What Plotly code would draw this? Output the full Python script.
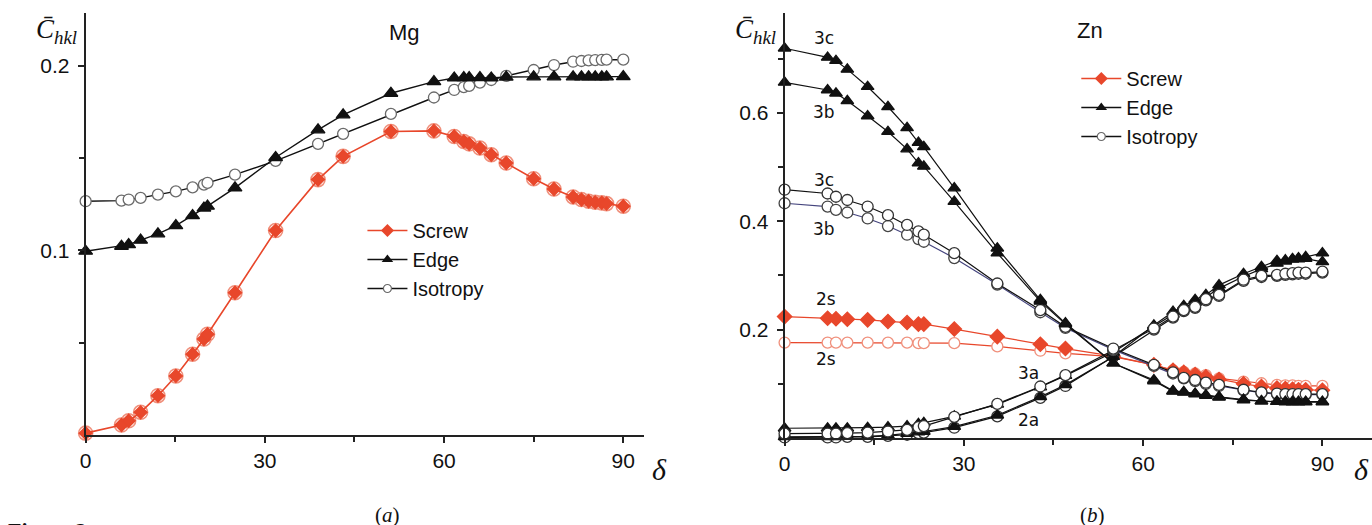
import plotly.graph_objects as go

# ---------------- Data: panel (a) Mg ----------------
delta_mg = [0, 6, 7.2, 9.2, 12.1, 15.1, 17.9, 19.8, 20.4, 25, 31.8, 38.9, 43.1, 51.1, 58.3,
            61.7, 63.3, 64.2, 66, 67.9, 70.4, 75, 78.4, 81.6, 83, 84.2, 85.3, 86.4, 87.2, 90]
mg_screw = [0.001, 0.0054, 0.0077, 0.0123, 0.0213, 0.032, 0.0438, 0.052, 0.0546, 0.0771, 0.1108,
            0.1384, 0.151, 0.1645, 0.1648, 0.1618, 0.1591, 0.1578, 0.1555, 0.1519, 0.1474, 0.1389,
            0.1333, 0.129, 0.1276, 0.1267, 0.1261, 0.1258, 0.1254, 0.124]
mg_edge = [0.0996, 0.1023, 0.1032, 0.1056, 0.109, 0.1135, 0.1189, 0.123, 0.124, 0.1339, 0.1504,
           0.1654, 0.1735, 0.1852, 0.1915, 0.1935, 0.1937, 0.1937, 0.1937, 0.1935, 0.1940, 0.1941,
           0.1941, 0.1941, 0.1941, 0.1941, 0.1941, 0.1941, 0.1941, 0.1942]
mg_iso = [0.1267, 0.127, 0.1276, 0.1285, 0.1303, 0.132, 0.1342, 0.1357, 0.1366, 0.1411, 0.1486,
          0.1578, 0.1632, 0.174, 0.1829, 0.187, 0.1885, 0.1892, 0.191, 0.1924, 0.1946, 0.1978,
          0.2005, 0.2023, 0.2027, 0.203, 0.2032, 0.2033, 0.2034, 0.2034]

# ---------------- Data: panel (b) Zn ----------------
delta_zn = [0, 7.2, 8.6, 10.5, 13.9, 17.3, 20.5, 22.4, 23.3, 28.4, 35.6, 42.8, 47, 55, 61.8,
            65, 66.8, 68.7, 70.5, 72.7, 76.8, 79.8, 82.4, 83.8, 85, 86, 87.2, 90]
zn_edge_3c = [0.719, 0.702, 0.696, 0.680, 0.648, 0.611, 0.572, 0.545, 0.537, 0.461, 0.350, 0.255,
              0.212, 0.138, 0.107, 0.087, 0.085, 0.082, 0.079, 0.076, 0.071, 0.068, 0.067, 0.067,
              0.067, 0.067, 0.067, 0.067]
zn_edge_3b = [0.656, 0.642, 0.636, 0.622, 0.594, 0.565, 0.533, 0.507, 0.501, 0.436, 0.341, 0.252,
              0.210, 0.138, 0.105, 0.086, 0.084, 0.081, 0.078, 0.075, 0.070, 0.068, 0.067, 0.066,
              0.066, 0.066, 0.066, 0.066]
zn_iso_3c = [0.458, 0.451, 0.445, 0.439, 0.427, 0.411, 0.393, 0.381, 0.375, 0.341, 0.285, 0.236,
             0.205, 0.165, 0.135, 0.121, 0.111, 0.107, 0.102, 0.098, 0.089, 0.084, 0.082, 0.081,
             0.081, 0.081, 0.081, 0.081]
zn_iso_3b = [0.433, 0.427, 0.421, 0.416, 0.405, 0.391, 0.375, 0.367, 0.362, 0.332, 0.283, 0.232,
             0.203, 0.163, 0.133, 0.119, 0.110, 0.105, 0.100, 0.096, 0.088, 0.083, 0.081, 0.080,
             0.080, 0.080, 0.080, 0.080]
zn_screw_2s = [0.224, 0.221, 0.220, 0.219, 0.218, 0.215, 0.213, 0.210, 0.210, 0.201, 0.187, 0.173,
               0.165, 0.151, 0.135, 0.125, 0.121, 0.117, 0.113, 0.108, 0.100, 0.095, 0.092, 0.091,
               0.090, 0.089, 0.089, 0.088]
zn_iso_2s = [0.176, 0.176, 0.176, 0.176, 0.176, 0.176, 0.176, 0.175, 0.175, 0.175, 0.169, 0.161,
             0.156, 0.150, 0.135, 0.125, 0.122, 0.119, 0.116, 0.110, 0.104, 0.101, 0.098, 0.097,
             0.097, 0.096, 0.096, 0.096]
zn_edge_3a = [0.018, 0.018, 0.018, 0.018, 0.019, 0.020, 0.022, 0.026, 0.028, 0.040, 0.062, 0.094,
              0.115, 0.158, 0.206, 0.228, 0.240, 0.250, 0.260, 0.276, 0.298, 0.312, 0.322, 0.326,
              0.330, 0.332, 0.334, 0.341]
zn_iso_3a = [0.008, 0.008, 0.008, 0.009, 0.010, 0.012, 0.015, 0.020, 0.022, 0.039, 0.063, 0.095,
             0.116, 0.162, 0.202, 0.224, 0.236, 0.242, 0.256, 0.264, 0.292, 0.299, 0.301, 0.303,
             0.304, 0.305, 0.305, 0.307]
zn_edge_2a = [0.002, 0.002, 0.002, 0.003, 0.003, 0.005, 0.008, 0.011, 0.012, 0.021, 0.042, 0.076,
              0.098, 0.150, 0.208, 0.233, 0.244, 0.255, 0.264, 0.282, 0.303, 0.316, 0.327, 0.328,
              0.330, 0.330, 0.331, 0.325]
zn_iso_2a = [0.001, 0.001, 0.001, 0.002, 0.002, 0.004, 0.006, 0.009, 0.010, 0.019, 0.040, 0.074,
             0.096, 0.150, 0.200, 0.222, 0.234, 0.240, 0.254, 0.262, 0.290, 0.297, 0.299, 0.301,
             0.302, 0.303, 0.303, 0.305]

x_ticks = [0, 30, 60, 90]
x_minor = [15, 45, 75]
mg_yticks = [0.1, 0.2]
mg_yminor = [0.05, 0.15]
zn_yticks = [0.2, 0.4, 0.6]
zn_yminor = [0.1, 0.3, 0.5, 0.7]
legend_names = ["Screw", "Edge", "Isotropy"]

RED = "#e8472b"
LRED = "#f0907c"
BLK = "#111111"
GRY = "#6a6a6a"
NAVY = "#45457e"
W, H = 1372, 525

fig = go.Figure()


def line_trace(x, y, xa, ya, color, symbol, mcolor, mline, size, lw=1.4, fill=True):
    return go.Scatter(
        x=x, y=y, xaxis=xa, yaxis=ya, mode="lines+markers", showlegend=False,
        cliponaxis=False,
        line=dict(color=color, width=lw),
        marker=dict(symbol=symbol, size=size,
                    color=mcolor if fill else "white",
                    line=dict(color=mline, width=1.3)),
    )


# ---- panel (a)
fig.add_trace(line_trace(delta_mg, mg_iso, "x", "y", BLK, "circle", "white", GRY, 11, fill=False))
fig.add_trace(line_trace(delta_mg, mg_edge, "x", "y", BLK, "triangle-up", BLK, BLK, 12))
fig.add_trace(go.Scatter(x=delta_mg, y=mg_screw, xaxis="x", yaxis="y", mode="markers",
                         showlegend=False, cliponaxis=False,
                         marker=dict(symbol="circle", size=14, color="rgba(255,255,255,0)",
                                     line=dict(color=LRED, width=1.6))))
fig.add_trace(line_trace(delta_mg, mg_screw, "x", "y", RED, "diamond", RED, RED, 10, lw=1.6))

# ---- panel (b)
fig.add_trace(line_trace(delta_zn, zn_iso_2s, "x2", "y2", RED, "circle", "white", LRED, 11, lw=1.2, fill=False))
fig.add_trace(line_trace(delta_zn, zn_screw_2s, "x2", "y2", RED, "diamond", RED, RED, 11, lw=1.2))
fig.add_trace(line_trace(delta_zn, zn_iso_2a, "x2", "y2", BLK, "circle", "white", "#333", 11, lw=1.2, fill=False))
fig.add_trace(line_trace(delta_zn, zn_edge_2a, "x2", "y2", BLK, "triangle-up", BLK, BLK, 11, lw=1.2))
fig.add_trace(line_trace(delta_zn, zn_edge_3a, "x2", "y2", BLK, "triangle-up", BLK, BLK, 11, lw=1.2))
fig.add_trace(line_trace(delta_zn, zn_iso_3a, "x2", "y2", BLK, "circle", "white", "#333", 11, lw=1.2, fill=False))
fig.add_trace(line_trace(delta_zn, zn_iso_3b, "x2", "y2", NAVY, "circle", "white", "#444", 11, lw=1.2, fill=False))
fig.add_trace(line_trace(delta_zn, zn_iso_3c, "x2", "y2", BLK, "circle", "white", "#333", 11, lw=1.2, fill=False))
fig.add_trace(line_trace(delta_zn, zn_edge_3b, "x2", "y2", BLK, "triangle-up", BLK, BLK, 11, lw=1.2))
fig.add_trace(line_trace(delta_zn, zn_edge_3c, "x2", "y2", BLK, "triangle-up", BLK, BLK, 11, lw=1.2))

# ---- legend entries (legend-only traces)
leg_styles = [
    dict(line=dict(color=RED, width=1.5),
         marker=dict(symbol="diamond", size=10, color=RED, line=dict(width=0))),
    dict(line=dict(color=BLK, width=1.5),
         marker=dict(symbol="triangle-up", size=10, color=BLK, line=dict(width=0))),
    dict(line=dict(color=BLK, width=1.5),
         marker=dict(symbol="circle", size=8, color="white", line=dict(color=GRY, width=1.2))),
]
for lg, xa, ya in [("legend", "x", "y"), ("legend2", "x2", "y2")]:
    for name, st in zip(legend_names, leg_styles):
        fig.add_trace(go.Scatter(x=[None], y=[None], xaxis=xa, yaxis=ya, mode="lines+markers",
                                 name=name, legend=lg, showlegend=True, **st))

tickfont = dict(family="Liberation Sans, Arial, sans-serif", size=21, color="#111")
common_x = dict(showgrid=False, zeroline=False, showline=True, linecolor="#222", linewidth=1.8,
                ticks="outside", ticklen=6, tickwidth=1.5, tickcolor="#222",
                tickvals=x_ticks, tickfont=tickfont,
                minor=dict(tickvals=x_minor, ticks="outside", ticklen=5, tickwidth=1.5, tickcolor="#222"))
common_y = dict(showgrid=False, zeroline=False, showline=True, linecolor="#222", linewidth=1.8,
                ticks="outside", ticklen=6, tickwidth=1.5, tickcolor="#222", tickfont=tickfont,
                ticklabelstandoff=4)

legfont = dict(family="Liberation Sans, Arial, sans-serif", size=20, color="#111")
fig.update_layout(
    width=W, height=H, margin=dict(l=0, r=0, t=0, b=0),
    paper_bgcolor="white", plot_bgcolor="white",
    xaxis=dict(domain=[80 / W, 641 / W], range=[0, 93.5], anchor="y", **common_x),
    yaxis=dict(domain=[1 - 435 / H, 1 - 13 / H], range=[0, 0.2287], anchor="x",
               tickvals=mg_yticks,
               minor=dict(tickvals=mg_yminor, ticks="outside", ticklen=5, tickwidth=1.5, tickcolor="#222"),
               **common_y),
    xaxis2=dict(domain=[782 / W, 1.0], range=[0, 98.3], anchor="y2", **common_x),
    yaxis2=dict(domain=[1 - 438 / H, 1 - 13 / H], range=[0, 0.784], anchor="x2",
                tickvals=zn_yticks,
                minor=dict(tickvals=zn_yminor, ticks="outside", ticklen=5, tickwidth=1.5, tickcolor="#222"),
                **common_y),
    legend=dict(x=358 / W, y=1 - 211 / H, xanchor="left", yanchor="top", font=legfont,
                bgcolor="rgba(0,0,0,0)", itemwidth=40),
    legend2=dict(x=1075 / W, y=1 - 59 / H, xanchor="left", yanchor="top", font=legfont,
                 bgcolor="rgba(0,0,0,0)", itemwidth=40),
)

ann = []
sans = "Liberation Sans, Arial, sans-serif"
serif = "Liberation Serif, DejaVu Serif, serif"
lab = "DejaVu Sans, sans-serif"


def pa(text, xp, yp, font, xanchor="center", yanchor="middle"):
    return dict(text=text, x=xp / W, y=1 - yp / H, xref="paper", yref="paper", showarrow=False,
                xanchor=xanchor, yanchor=yanchor, font=font)


# titles
ann.append(pa("Mg", 400, 33, dict(family=sans, size=22, color="#111")))
ann.append(pa("Zn", 1089, 31, dict(family=sans, size=22, color="#111")))
# y-axis titles
for xp in (51, 753):
    ann.append(pa("<i>C̄</i><sub><i>hkl</i></sub>", xp, 31, dict(family=serif, size=27, color="#111")))
# delta labels
for xp in (656, 1361):
    ann.append(pa("<i>δ</i>", xp, 469, dict(family=serif, size=30, color="#111")))
# panel labels
ann.append(pa("(<i>a</i>)", 383, 515, dict(family=serif, size=21, color="#111")))
ann.append(pa("(<i>b</i>)", 1091, 515, dict(family=serif, size=21, color="#111")))
ann.append(pa("<b>Figure 2</b>", 0, 516, dict(family=serif, size=22, color="#111"),
              xanchor="left", yanchor="top"))
# curve labels panel (a)
ann.append(dict(text="1", x=94.2, y=0.198, xref="x", yref="y", showarrow=False,
                xanchor="center", yanchor="middle", font=dict(family=lab, size=17, color="#111")))
ann.append(dict(text="1s", x=94.9, y=0.123, xref="x", yref="y", showarrow=False,
                xanchor="center", yanchor="middle", font=dict(family=lab, size=17, color="#111")))
# curve labels panel (b)
for t, xv, yv in [("3c", 6.6, 0.738), ("3b", 6.6, 0.602), ("3c", 6.6, 0.476), ("3b", 6.6, 0.386),
                  ("2s", 6.9, 0.256), ("2s", 6.9, 0.145), ("3a", 40.8, 0.119), ("2a", 40.8, 0.033)]:
    ann.append(dict(text=t, x=xv, y=yv, xref="x2", yref="y2", showarrow=False,
                    xanchor="center", yanchor="middle", font=dict(family=lab, size=17, color="#111")))

fig.update_layout(annotations=ann)
fig.write_html("out.html")
